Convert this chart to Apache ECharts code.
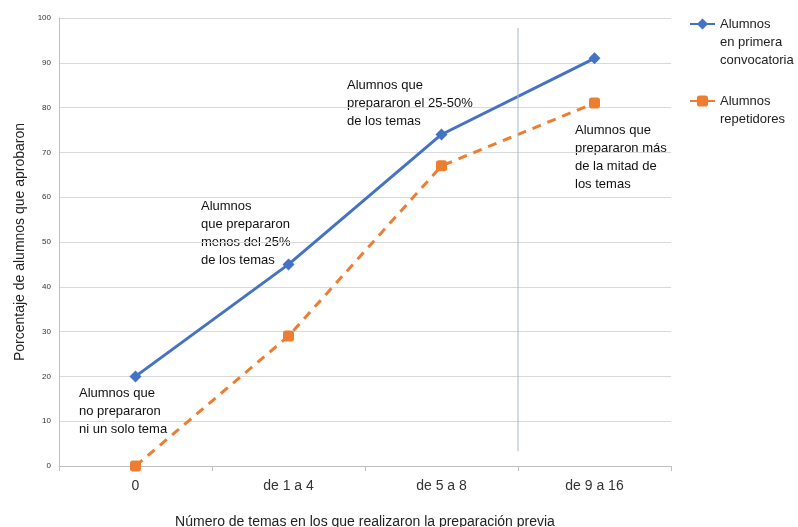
<!DOCTYPE html>
<html><head><meta charset="utf-8">
<script src="https://cdn.jsdelivr.net/npm/echarts@6/dist/echarts.min.js"></script>
<style>html,body{margin:0;padding:0;background:#fff}#c{width:798px;height:527px}</style>
</head><body><div id="c"></div>
<script>
const categories = ['0', 'de 1 a 4', 'de 5 a 8', 'de 9 a 16'];
const primera = [20, 45, 74, 91];
const repetidores = [0, 29, 67, 81];
const yTicks = [0, 10, 20, 30, 40, 50, 60, 70, 80, 90, 100];
const separator = [[2.5, 97.8], [2.5, 3.3]];
const notes = [
  'Alumnos que\nno prepararon\nni un solo tema',
  'Alumnos\nque prepararon\nmenos del 25%\nde los temas',
  'Alumnos que\nprepararon el 25-50%\nde los temas',
  'Alumnos que\nprepararon más\nde la mitad de\nlos temas'
];
const noteBoxes = [[79, 384], [201, 197], [347, 76], [575, 121]];
const nameA = 'Alumnos\nen primera\nconvocatoria';
const nameB = 'Alumnos\nrepetidores';
const legendPad = {};
legendPad[nameA] = ' \n \n';
legendPad[nameB] = ' \n';

const FONT = 'Liberation Sans, Arial, sans-serif';
const chart = echarts.init(document.getElementById('c'));
chart.setOption({
  animation: false,
  textStyle: { fontFamily: FONT },
  grid: { left: 59, right: 127, top: 18, bottom: 61, outerBoundsMode: 'none', containLabel: false },
  legend: {
    orient: 'vertical', left: 684, top: -26, itemWidth: 25, itemHeight: 14, itemGap: 5,
    padding: 5,
    formatter: n => legendPad[n] + n,
    textStyle: { fontSize: 13, color: '#222', lineHeight: 18, fontFamily: FONT },
    data: [nameA, nameB]
  },
  xAxis: [{
    type: 'category', data: categories, boundaryGap: true,
    axisLine: { lineStyle: { color: '#bfbfbf' } },
    axisTick: { show: true, length: 5, lineStyle: { color: '#bfbfbf' } },
    axisLabel: { fontSize: 14, color: '#333', margin: 13 },
    name: 'Número de temas en los que realizaron la preparación previa',
    nameLocation: 'middle', nameGap: 49,
    nameTextStyle: { fontSize: 14, color: '#222' }
  }, {
    type: 'value', min: -0.5, max: 3.5, show: false
  }],
  yAxis: {
    type: 'value', min: 0, max: 100, interval: 10,
    axisLine: { show: true, onZero: false, lineStyle: { color: '#bfbfbf' } },
    axisTick: { show: false },
    splitLine: { lineStyle: { color: '#d9d9d9' } },
    axisLabel: { fontSize: 8, color: '#333', margin: 8, formatter: v => yTicks.includes(v) ? String(v) : '' },
    name: 'Porcentaje de alumnos que aprobaron',
    nameLocation: 'middle', nameGap: 32,
    nameTextStyle: { fontSize: 14, color: '#222' }
  },
  series: [
    {
      name: nameA, type: 'line', data: primera,
      symbol: 'diamond', symbolSize: 12,
      lineStyle: { color: '#4472c4', width: 3 },
      itemStyle: { color: '#4472c4' }
    },
    {
      name: nameB, type: 'line', data: repetidores,
      symbol: 'roundRect', symbolSize: 11,
      lineStyle: { color: '#ed7d31', width: 3, type: [9, 7] },
      itemStyle: { color: '#ed7d31' }
    },
    {
      type: 'line', xAxisIndex: 1, data: separator, symbol: 'none',
      lineStyle: { color: '#a8b8d8', width: 1 }, silent: true
    }
  ],
  graphic: notes.map((t, i) => ({
    type: 'text', left: noteBoxes[i][0], top: noteBoxes[i][1],
    style: { text: t, fontSize: 13, lineHeight: 18, fill: '#111', fontFamily: FONT }
  }))
});
</script></body></html>
